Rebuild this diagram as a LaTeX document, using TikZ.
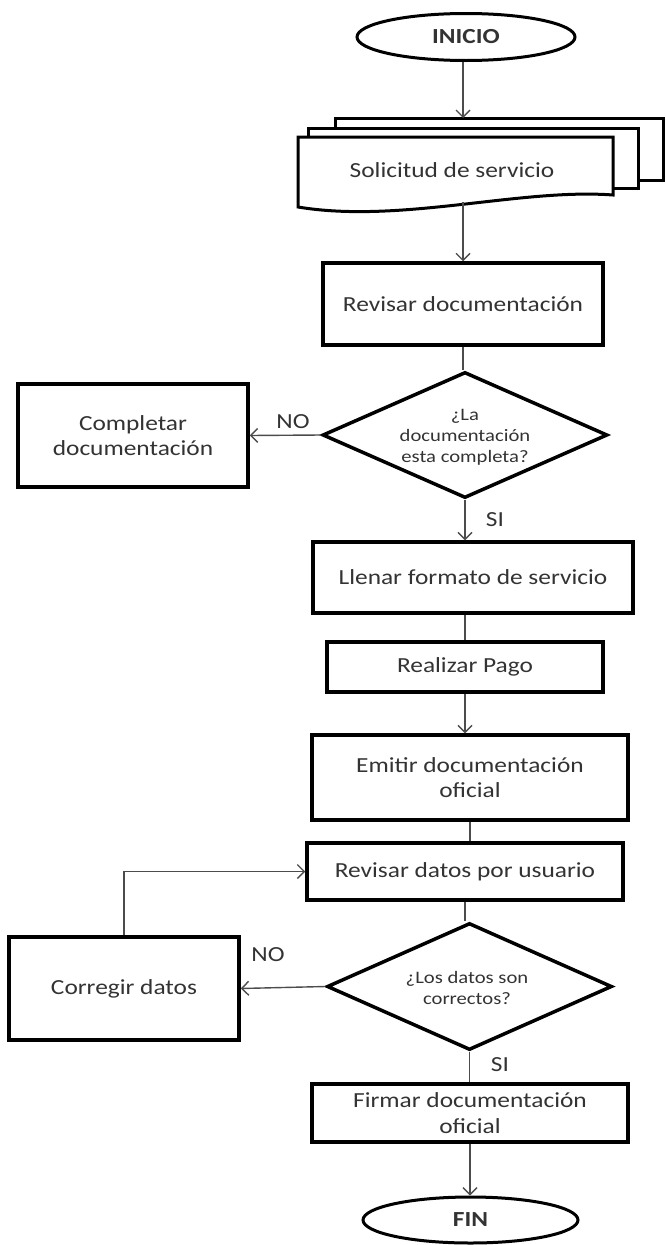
\documentclass[tikz,border=0pt]{standalone}
\usepackage{fontspec}
\setmainfont{Carlito}[FakeStretch=1.18]
\usetikzlibrary{shapes.geometric,arrows.meta}
\definecolor{txt}{gray}{0.2}
\definecolor{conn}{gray}{0.3}
\tikzset{
  stepbox/.style={draw=black, line width=3.5pt, fill=white, rectangle, inner sep=2pt, align=center,
    text=txt, font=\fontsize{21.5}{25.5}\selectfont},
  termbox/.style={draw=black, line width=3pt, ellipse, inner sep=0pt, text=txt,
    font=\fontsize{21.5}{25.5}\selectfont\bfseries},
  decbox/.style={draw=black, line width=3.5pt, diamond, inner sep=0pt},
  dectext/.style={align=center, text=txt, font=\fontsize{17.5}{21}\selectfont},
  lbl/.style={text=txt, font=\fontsize{21.5}{25.5}\selectfont},
  conline/.style={draw=conn, line width=1.4pt},
  conarrow/.style={conline, -{Straight Barb[length=7pt,width=14pt,line width=1.4pt]}},
  docshape/.style={draw=black, line width=3pt, fill=white}
}
\begin{document}
\begin{tikzpicture}[x=1pt,y=-1pt]
\useasboundingbox (0,0) rectangle (665,1245);

% start
\node[termbox, minimum width=218pt, minimum height=47pt] (inicio) at (466,37) {INICIO};

% multi-document
\draw[docshape] (335,118) rectangle (663,180);
\draw[docshape] (308,128) rectangle (638,188);
\draw[docshape] (298,137) -- (613,137) -- (613,195)
  .. controls (520,188) and (400,224) .. (298,207) -- cycle;
\node[text=txt, font=\fontsize{21.5}{25.5}\selectfont] (sol) at (452,170) {Solicitud de servicio};
\coordinate (solTop) at (463,118);
\coordinate (solBot) at (463,202);

\node[stepbox, minimum width=280pt, minimum height=82pt] (revdoc) at (463,304) {Revisar documentación};

\node[decbox, minimum width=285pt, minimum height=126pt] (d1) at (465,435) {};
\node[dectext] (d1t) at (465,437) {¿La\\documentación\\esta completa?};

\node[stepbox, minimum width=230pt, minimum height=103pt] (comp) at (133,435.5) {Completar\\documentación};

\node[stepbox, minimum width=320pt, minimum height=71pt] (llenar) at (473,577.5) {Llenar formato de servicio};
\node[stepbox, minimum width=276pt, minimum height=50pt] (pago) at (465,667) {Realizar Pago};
\node[stepbox, minimum width=316pt, minimum height=85pt] (emitir) at (470,777.5) {Emitir documentación\\oficial};
\node[stepbox, minimum width=316pt, minimum height=57pt] (revdat) at (465,871.5) {Revisar datos por usuario};

\node[decbox, minimum width=285pt, minimum height=127pt] (d2) at (469.5,986.5) {};
\node[dectext] (d2t) at (467,988) {¿Los datos son\\correctos?};

\node[stepbox, minimum width=230pt, minimum height=103pt] (corr) at (124,988.5) {Corregir datos};

\node[stepbox, minimum width=316pt, minimum height=58pt] (firmar) at (470,1113) {Firmar documentación\\oficial};

\node[termbox, minimum width=215pt, minimum height=46pt] (fin) at (470.5,1220) {FIN};

% connectors
\draw[conarrow] (inicio.south -| solTop) -- (solTop);
\draw[conarrow] (solBot) -- (solBot |- revdoc.north);
\draw[conline] (revdoc.south) -- (revdoc.south |- d1.north);
\draw[conarrow] (d1.west) -- (comp.east);
\node[lbl] (no1) at (293,422) {NO};
\draw[conarrow] (d1.south) -- (d1.south |- llenar.north);
\node[lbl] (si1) at (495,520) {SI};
\draw[conline] (pago.north |- llenar.south) -- (pago.north);
\draw[conarrow] (pago.south) -- (pago.south |- emitir.north);
\draw[conline] (emitir.south) -- (emitir.south |- revdat.north);
\draw[conline] (revdat.south) -- (revdat.south |- d2.north);
\draw[conarrow] (d2.west) -- (corr.east);
\node[lbl] (no2) at (268,955) {NO};
\draw[conarrow] (corr.north) |- (revdat.west);
\draw[conline] (d2.south) -- (d2.south |- firmar.north);
\node[lbl] (si2) at (500,1065) {SI};
\draw[conarrow] (firmar.south) -- (firmar.south |- fin.north);
\end{tikzpicture}
\end{document}
